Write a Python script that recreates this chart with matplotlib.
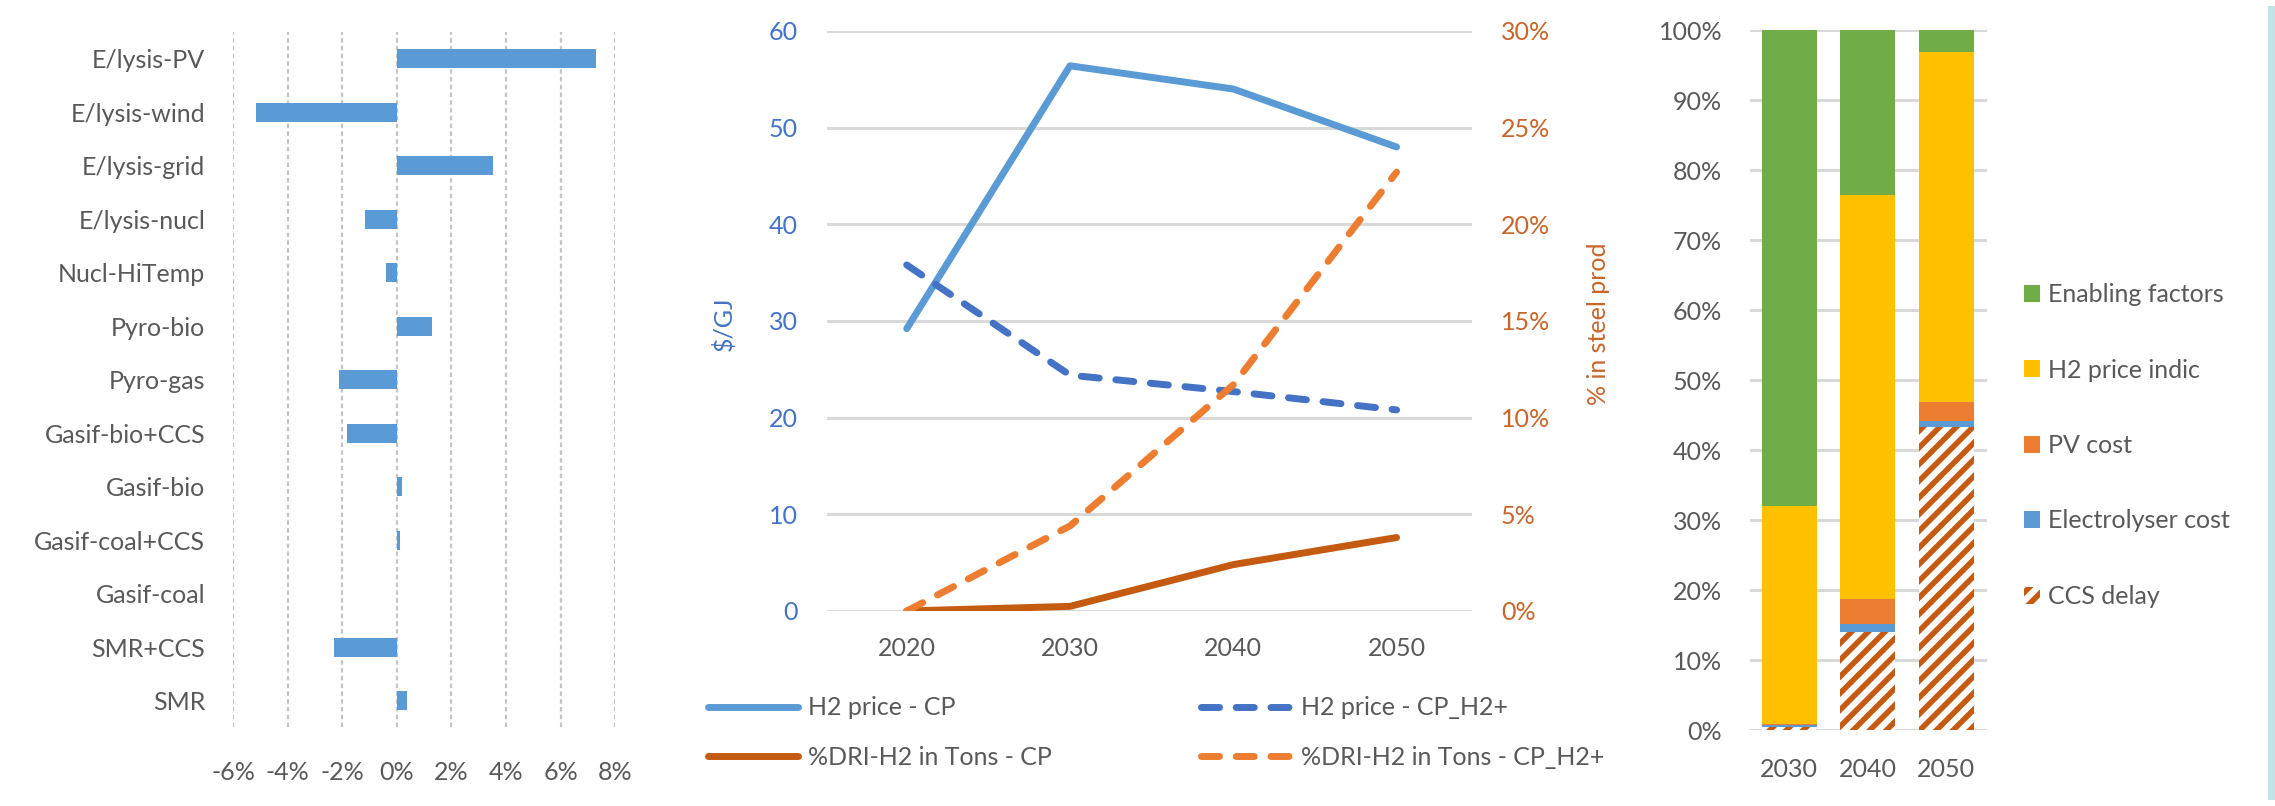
import matplotlib
matplotlib.use('Agg')
import matplotlib.pyplot as plt
import numpy as np
from matplotlib.patches import Rectangle
from matplotlib.ticker import FixedLocator, FuncFormatter

plt.rcParams['font.family'] = ['Lato', 'DejaVu Sans']
plt.rcParams['hatch.linewidth'] = 4.0
plt.rcParams['hatch.color'] = '#C55A11'

# ---------------- data ----------------
tech = ['E/lysis-PV', 'E/lysis-wind', 'E/lysis-grid', 'E/lysis-nucl', 'Nucl-HiTemp',
        'Pyro-bio', 'Pyro-gas', 'Gasif-bio+CCS', 'Gasif-bio', 'Gasif-coal+CCS',
        'Gasif-coal', 'SMR+CCS', 'SMR']
tech_change = [7.28, -5.16, 3.52, -1.16, -0.39, 1.27, -2.11, -1.82, 0.19, 0.13, 0.0, -2.30, 0.37]
tech_ticks = [-6, -4, -2, 0, 2, 4, 6, 8]

years = ['2020', '2030', '2040', '2050']
h2_price_cp = [29.2, 56.4, 54.0, 48.0]
h2_price_cph2 = [35.8, 24.4, 22.7, 20.8]
dri_cp = [0.0, 0.24, 2.4, 3.8]
dri_cph2 = [0.0, 4.4, 11.7, 22.7]
price_ticks = [0, 10, 20, 30, 40, 50, 60]
share_ticks = [0, 5, 10, 15, 20, 25, 30]

bar_years = ['2030', '2040', '2050']
ccs_delay = [0.5, 14.0, 43.3]
electrolyser = [0.25, 1.1, 0.9]
pv_cost = [0.15, 3.6, 2.6]
h2_indic = [31.1, 57.8, 50.1]
enabling = [68.0, 23.5, 3.1]
pct_ticks = list(range(0, 101, 10))

# ---------------- style ----------------
W, H = 2275, 806
FS = 18
GRAY = '#595959'
GRID = '#D9D9D9'
BLUE_TXT = '#4472C4'
ORANGE_TXT = '#C8652A'


def rect(x0, y0, x1, y1):
    return [x0 / W, 1 - y1 / H, (x1 - x0) / W, (y1 - y0) / H]


pct_fmt = FuncFormatter(lambda v, p: f"{int(round(v))}%")

fig = plt.figure(figsize=(W / 100, H / 100), dpi=100)

# ---------------- left: horizontal bars ----------------
ax1 = fig.add_axes(rect(233, 32, 615.3, 727.4))
ypos = np.arange(len(tech))
ax1.barh(ypos, tech_change, height=0.36, color='#5B9BD5', zorder=3)
ax1.set_yticks(ypos)
ax1.set_yticklabels(tech)
ax1.set_ylim(len(tech) - 0.5, -0.5)
ax1.set_xlim(-6, 8)
ax1.xaxis.set_major_locator(FixedLocator(tech_ticks))
ax1.xaxis.set_major_formatter(FuncFormatter(lambda v, p: f"{int(v)}%"))
ax1.grid(axis='x', color='#C4C4C4', lw=1.6, ls=(0, (2, 1.5)), zorder=0)
ax1.set_axisbelow(True)
for s in ax1.spines.values():
    s.set_visible(False)
ax1.tick_params(axis='y', length=0, pad=20, labelsize=FS, labelcolor=GRAY)
ax1.tick_params(axis='x', length=0, pad=24, labelsize=FS, labelcolor=GRAY)

# ---------------- middle: lines ----------------
ax2 = fig.add_axes(rect(826.7, 31, 1471.7, 611))
x = np.arange(len(years))
l1, = ax2.plot(x, h2_price_cp, color='#5B9BD5', lw=5, solid_capstyle='round',
               solid_joinstyle='round', label='H2 price - CP', zorder=3)
l2, = ax2.plot(x, h2_price_cph2, color='#4472C4', lw=5, ls=(0, (2.6, 2.4)),
               dash_capstyle='round', dash_joinstyle='round', label='H2 price - CP_H2+', zorder=3)
ax2.set_ylim(0, 60)
ax2.set_xlim(-0.49, 3.46)
ax2.set_yticks(price_ticks)
ax2.set_xticks(x)
ax2.set_xticklabels(years)
ax2.grid(axis='y', color=GRID, lw=2.2, zorder=0)
ax2.set_axisbelow(True)
for s in ax2.spines.values():
    s.set_visible(False)
ax2.tick_params(axis='y', length=0, pad=21, labelsize=FS, labelcolor=BLUE_TXT)
ax2.tick_params(axis='x', length=0, pad=19, labelsize=FS, labelcolor=GRAY)
ax2.set_ylabel(r'\$/GJ', fontsize=FS, color=BLUE_TXT)
ax2.yaxis.set_label_coords((736 - 826.7) / 645, 1 - (324 - 31) / 580)

ax2r = ax2.twinx()
l3, = ax2r.plot(x, dri_cp, color='#C55A11', lw=5, solid_capstyle='round',
                solid_joinstyle='round', label='%DRI-H2 in Tons - CP', zorder=3)
l4, = ax2r.plot(x, dri_cph2, color='#ED7D31', lw=5, ls=(0, (2.6, 2.4)),
                dash_capstyle='round', dash_joinstyle='round', label='%DRI-H2 in Tons - CP_H2+', zorder=3)
ax2r.set_ylim(0, 30)
ax2r.set_yticks(share_ticks)
ax2r.yaxis.set_major_formatter(pct_fmt)
for s in ax2r.spines.values():
    s.set_visible(False)
ax2r.tick_params(axis='y', length=0, pad=21, labelsize=FS, labelcolor=ORANGE_TXT)
ax2r.set_ylabel('% in steel prod', fontsize=FS, color=ORANGE_TXT)
ax2r.yaxis.set_label_coords((1587 - 826.7) / 645, 1 - (324 - 31) / 580)

leg_kw = dict(loc='center left', frameon=False, borderpad=0, borderaxespad=0,
              handlelength=3.6, handletextpad=0.4, labelspacing=1.05, fontsize=FS,
              labelcolor=GRAY)
fig.legend([l1, l3], [l1.get_label(), l3.get_label()],
           bbox_to_anchor=(707.8 / W, 1 - 732.5 / H), **leg_kw)
fig.legend([l2, l4], [l2.get_label(), l4.get_label()],
           bbox_to_anchor=(1201 / W, 1 - 732.5 / H), **leg_kw)

# ---------------- right: stacked bars ----------------
ax3 = fig.add_axes(rect(1750, 30, 1987, 730))
xb = np.arange(len(bar_years))
bw = 0.70
bottom = np.zeros(len(bar_years))
b_ccs = ax3.bar(xb, ccs_delay, bw, bottom=bottom, color='white', edgecolor='#C55A11',
                linewidth=0, hatch='//', label='CCS delay', zorder=3)
bottom += np.array(ccs_delay)
b_el = ax3.bar(xb, electrolyser, bw, bottom=bottom, color='#5B9BD5', label='Electrolyser cost', zorder=3)
bottom += np.array(electrolyser)
b_pv = ax3.bar(xb, pv_cost, bw, bottom=bottom, color='#ED7D31', label='PV cost', zorder=3)
bottom += np.array(pv_cost)
b_h2 = ax3.bar(xb, h2_indic, bw, bottom=bottom, color='#FFC000', label='H2 price indic', zorder=3)
bottom += np.array(h2_indic)
b_en = ax3.bar(xb, enabling, bw, bottom=bottom, color='#70AD47', label='Enabling factors', zorder=3)

ax3.set_xlim(-0.5, 2.52)
ax3.set_ylim(0, 100)
ax3.set_yticks(pct_ticks)
ax3.yaxis.set_major_formatter(pct_fmt)
ax3.set_xticks(xb)
ax3.set_xticklabels(bar_years)
ax3.grid(axis='y', color=GRID, lw=2.2, zorder=0)
ax3.set_axisbelow(True)
for s in ax3.spines.values():
    s.set_visible(False)
ax3.tick_params(axis='y', length=0, pad=20, labelsize=FS, labelcolor=GRAY)
ax3.tick_params(axis='x', length=0, pad=20, labelsize=FS, labelcolor=GRAY)

handles = [b_en, b_h2, b_pv, b_el, b_ccs]
fig.legend(handles, [h.get_label() for h in handles], loc='center left',
           bbox_to_anchor=(2023.6 / W, 1 - 445.5 / H), frameon=False, borderpad=0,
           borderaxespad=0, handlelength=0.66, handleheight=0.66, handletextpad=0.33,
           labelspacing=2.1, fontsize=FS, labelcolor=GRAY)

# thin decorative stripe on the right edge
fig.add_artist(Rectangle((2268 / W, 1 - 800 / H), 7 / W, 794 / H,
                         transform=fig.transFigure, color='#C2E4E8', lw=0))

fig.savefig('out.png', dpi=100, facecolor='white')
